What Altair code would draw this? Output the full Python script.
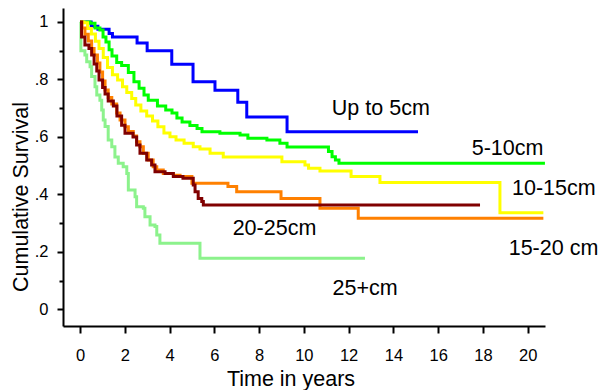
import altair as alt
import pandas as pd

# ---------------- data ----------------
series_names = ["Up to 5cm", "5-10cm", "10-15cm", "15-20 cm", "20-25cm", "25+cm"]
series_colors = ["#0000FF", "#00FF00", "#FFFF00", "#FF8000", "#800000", "#8CF28C"]

t_up5 = [0, 0.5, 0.8, 1.3, 1.45, 2.55, 3.0, 4.1, 5.05, 6.03, 7.05, 7.45, 9.25, 15.1]
s_up5 = [1.0, 0.985, 0.975, 0.96, 0.948, 0.927, 0.9, 0.853, 0.792, 0.762, 0.721, 0.669, 0.618, 0.618]

t_5_10 = [0, 0.45, 0.67, 0.89, 1.03, 1.16, 1.3, 1.43, 1.64, 1.86, 2.16, 2.41, 2.64, 2.86, 3.05,
          3.46, 3.83, 4.11, 4.33, 4.56, 4.91, 5.23, 5.45, 6.25, 7.15, 7.5, 8.35, 8.93, 9.25,
          11.1, 11.26, 11.41, 11.57, 20.77]
s_5_10 = [1.0, 0.996, 0.979, 0.972, 0.948, 0.93, 0.903, 0.882, 0.859, 0.849, 0.824, 0.792, 0.769,
          0.746, 0.728, 0.708, 0.694, 0.683, 0.666, 0.652, 0.64, 0.629, 0.618, 0.613, 0.607,
          0.595, 0.589, 0.578, 0.565, 0.549, 0.531, 0.52, 0.508, 0.508]

t_10_15 = [0, 0.18, 0.34, 0.51, 0.69, 0.85, 1.04, 1.23, 1.45, 1.68, 1.9, 2.09, 2.31, 2.49, 2.72,
           2.98, 3.24, 3.48, 3.75, 4.02, 4.29, 4.65, 5.06, 5.36, 5.81, 6.4, 9.02, 10.05, 10.21,
           10.72, 12.11, 13.4, 18.76, 20.7]
s_10_15 = [1.0, 0.997, 0.977, 0.958, 0.933, 0.908, 0.876, 0.842, 0.816, 0.798, 0.775, 0.755, 0.734,
           0.711, 0.69, 0.673, 0.655, 0.635, 0.614, 0.601, 0.589, 0.578, 0.566, 0.558, 0.543,
           0.53, 0.514, 0.502, 0.491, 0.481, 0.462, 0.441, 0.336, 0.336]

t_15_20 = [0, 0.09, 0.22, 0.37, 0.52, 0.63, 0.78, 0.89, 1.01, 1.12, 1.26, 1.42, 1.64, 1.79, 2.01,
           2.16, 2.38, 2.53, 2.68, 2.83, 3.05, 3.27, 3.43, 3.72, 4.17, 4.47, 5.0, 6.61, 7.0,
           8.98, 10.72, 12.43, 20.7]
s_15_20 = [1.0, 0.979, 0.957, 0.934, 0.908, 0.885, 0.857, 0.826, 0.795, 0.763, 0.737, 0.715, 0.683,
           0.659, 0.635, 0.619, 0.603, 0.583, 0.566, 0.543, 0.52, 0.496, 0.485, 0.473, 0.467,
           0.462, 0.439, 0.427, 0.409, 0.386, 0.352, 0.317, 0.317]

t_20_25 = [0, 0.07, 0.22, 0.4, 0.52, 0.63, 0.75, 0.85, 1.01, 1.12, 1.26, 1.49, 1.65, 1.86, 2.01,
           2.37, 2.53, 2.68, 2.98, 3.2, 3.35, 3.8, 4.17, 4.6, 5.06, 5.14, 5.28, 5.44, 5.51, 17.87]
s_20_25 = [1.0, 0.948, 0.92, 0.908, 0.885, 0.854, 0.829, 0.798, 0.772, 0.749, 0.725, 0.708, 0.673,
           0.641, 0.613, 0.6, 0.572, 0.543, 0.52, 0.502, 0.479, 0.473, 0.462, 0.456, 0.433,
           0.409, 0.386, 0.375, 0.363, 0.363]

t_25p = [0, 0.04, 0.22, 0.3, 0.45, 0.52, 0.67, 0.75, 0.89, 0.97, 1.04, 1.12, 1.26, 1.42, 1.56,
         1.71, 1.93, 2.09, 2.16, 2.46, 2.53, 2.83, 2.9, 3.13, 3.35, 3.43, 3.57, 5.36, 12.73]
s_25p = [1.0, 0.9, 0.885, 0.862, 0.844, 0.81, 0.775, 0.746, 0.728, 0.694, 0.659, 0.636, 0.589,
         0.566, 0.53, 0.508, 0.496, 0.473, 0.415, 0.392, 0.357, 0.352, 0.322, 0.293, 0.288,
         0.259, 0.23, 0.178, 0.178]

label_x = [11.25, 17.5, 19.3, 19.15, 6.82, 11.28]
label_y = [0.676, 0.537, 0.398, 0.189, 0.259, 0.050]

x_ticks = [0, 2, 4, 6, 8, 10, 12, 14, 16, 18, 20]
y_ticks = [0, 0.1, 0.2, 0.3, 0.4, 0.5, 0.6, 0.7, 0.8, 0.9, 1.0]

# ---------------- build tables ----------------
curves = {
    "Up to 5cm": (t_up5, s_up5),
    "5-10cm": (t_5_10, s_5_10),
    "10-15cm": (t_10_15, s_10_15),
    "15-20 cm": (t_15_20, s_15_20),
    "20-25cm": (t_20_25, s_20_25),
    "25+cm": (t_25p, s_25p),
}
rows = []
for name, (ts, ss) in curves.items():
    for i, (t, s) in enumerate(zip(ts, ss)):
        rows.append({"group": name, "t": t, "s": s, "i": i})
df = pd.DataFrame(rows)
labels_df = pd.DataFrame({"label": series_names, "x": label_x, "y": label_y})

FONT = "Liberation Sans"

x_scale = alt.Scale(domain=[-0.759, 20.773], nice=False, zero=False)
y_scale = alt.Scale(domain=[-0.0581, 1.0487], nice=False, zero=False)
color_scale = alt.Scale(domain=series_names, range=series_colors)

x_axis = alt.Axis(
    values=x_ticks, title="Time in years", grid=False,
    domainColor="black", domainWidth=2, tickColor="black", tickWidth=2, tickSize=7,
    labelFont=FONT, labelFontSize=16.5, labelColor="black", labelPadding=14, labelFlush=False,
    titleFont=FONT, titleFontSize=21.5, titleFontWeight="normal", titleColor="black",
    titleX=227.5, titleY=59, titleAlign="center", titleBaseline="alphabetic",
)
y_axis = alt.Axis(
    values=y_ticks, title="Cumulative Survival", grid=False,
    labelExpr="round(datum.value*10) % 2 == 1 ? '' : (datum.value >= 1 ? '1' : (datum.value <= 0 ? '0' : '.' + round(datum.value*10)))",
    domainColor="black", domainWidth=2, tickColor="black", tickWidth=2,
    tickSize={"condition": {"test": "round(datum.value*10) % 2 == 1", "value": 4}, "value": 6},
    labelFont=FONT, labelFontSize=16.5, labelColor="black", labelPadding=9, labelFlush=False,
    titleFont=FONT, titleFontSize=21.5, titleFontWeight="normal", titleColor="black",
    titleX=-36, titleY=188.5, titleAngle=270, titleAlign="center", titleBaseline="alphabetic",
)

draw_order = ["25+cm", "Up to 5cm", "5-10cm", "10-15cm", "15-20 cm", "20-25cm"]
layers = []
for name in draw_order:
    layers.append(
        alt.Chart(df)
        .transform_filter(alt.datum.group == name)
        .mark_line(interpolate="step-after", strokeWidth=3)
        .encode(
            x=alt.X("t:Q", scale=x_scale, axis=x_axis),
            y=alt.Y("s:Q", scale=y_scale, axis=y_axis),
            color=alt.Color("group:N", scale=color_scale, legend=None),
            order="i:Q",
        )
    )

text = alt.Chart(labels_df).mark_text(
    align="left", baseline="alphabetic", fontSize=21.5, font=FONT, color="black"
).encode(
    x=alt.X("x:Q", scale=x_scale, axis=x_axis),
    y=alt.Y("y:Q", scale=y_scale, axis=y_axis),
    text="label:N",
)

chart = (
    alt.layer(*layers, text)
    .properties(
        width=482, height=318,
        padding={"left": 55, "top": 0, "right": 53, "bottom": 64},
        autosize=alt.AutoSizeParams(type="none"),
        background="white",
    )
    .configure_view(stroke=None)
)

chart.save("out.html", embed_options={"renderer": "svg", "actions": False})
